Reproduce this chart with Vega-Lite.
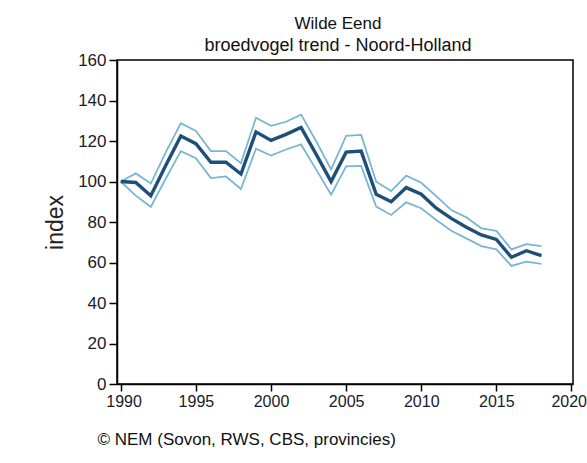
{
  "$schema": "https://vega.github.io/schema/vega-lite/v6.json",
  "width": 456,
  "height": 324,
  "autosize": "none",
  "padding": {"left": 117, "top": 60, "right": 14, "bottom": 79},
  "background": "white",
  "title": {
    "text": "Wilde Eend",
    "subtitle": "broedvogel trend - Noord-Holland",
    "anchor": "middle",
    "frame": "group",
    "dx": -7,
    "offset": -5,
    "font": "Liberation Sans",
    "subtitleFont": "Liberation Sans",
    "fontSize": 17,
    "subtitleFontSize": 18,
    "fontWeight": "normal",
    "color": "#111111",
    "subtitleColor": "#111111",
    "subtitlePadding": 4
  },
  "config": {
    "view": {"stroke": "#000000", "strokeWidth": 1.5},
    "axis": {
      "labelFont": "Liberation Sans",
      "titleFont": "Liberation Sans",
      "labelColor": "#1a1a2a",
      "titleColor": "#222222",
      "domainColor": "#000000",
      "tickColor": "#000000",
      "domainWidth": 1.5,
      "tickWidth": 1.5,
      "grid": false
    }
  },
  "data": {
    "values": [
      {"year": 1990, "lo": 100, "mid": 100, "hi": 100},
      {"year": 1991, "lo": 93, "mid": 99.5, "hi": 104},
      {"year": 1992, "lo": 87.5, "mid": 93, "hi": 99},
      {"year": 1993, "lo": 101.5, "mid": 108, "hi": 114.5},
      {"year": 1994, "lo": 115, "mid": 122.5, "hi": 128.8},
      {"year": 1995, "lo": 111.5, "mid": 118.7, "hi": 125},
      {"year": 1996, "lo": 101.7, "mid": 109.5, "hi": 115},
      {"year": 1997, "lo": 102.5, "mid": 109.5, "hi": 115},
      {"year": 1998, "lo": 96.3, "mid": 103.7, "hi": 109},
      {"year": 1999, "lo": 116.2, "mid": 124.5, "hi": 131.5},
      {"year": 2000, "lo": 112.8, "mid": 120.3, "hi": 127.5},
      {"year": 2001, "lo": 115.8, "mid": 123.3, "hi": 129.5},
      {"year": 2002, "lo": 118.3, "mid": 126.7, "hi": 133},
      {"year": 2003, "lo": 106, "mid": 113.5, "hi": 120},
      {"year": 2004, "lo": 93.5, "mid": 100, "hi": 106},
      {"year": 2005, "lo": 107.5, "mid": 114.5, "hi": 122.5},
      {"year": 2006, "lo": 107.7, "mid": 115, "hi": 123},
      {"year": 2007, "lo": 87.6, "mid": 93.7, "hi": 99.9},
      {"year": 2008, "lo": 83.5, "mid": 90, "hi": 95.3},
      {"year": 2009, "lo": 89.7, "mid": 97, "hi": 102.9},
      {"year": 2010, "lo": 86.8, "mid": 93.7, "hi": 99.4},
      {"year": 2011, "lo": 81, "mid": 86.8, "hi": 92.8},
      {"year": 2012, "lo": 75.7, "mid": 81.8, "hi": 85.9},
      {"year": 2013, "lo": 71.9, "mid": 77.4, "hi": 82.3},
      {"year": 2014, "lo": 68.1, "mid": 73.6, "hi": 76.9},
      {"year": 2015, "lo": 66.5, "mid": 71.4, "hi": 75.6},
      {"year": 2016, "lo": 58.3, "mid": 62.6, "hi": 66.5},
      {"year": 2017, "lo": 60.4, "mid": 65.8, "hi": 69.1},
      {"year": 2018, "lo": 59.3, "mid": 63.4, "hi": 68.1}
    ]
  },
  "encoding": {
    "x": {
      "field": "year",
      "type": "quantitative",
      "scale": {"domain": [1989.75, 2020.1], "nice": false, "zero": false},
      "axis": {
        "values": [1990, 1995, 2000, 2005, 2010, 2015, 2020],
        "format": "d",
        "labelFontSize": 16,
        "labelPadding": 2,
        "labelFlush": 6,
        "labelFlushOffset": 15,
        "tickSize": 7,
        "title": "© NEM (Sovon, RWS, CBS, provincies)",
        "titleFontSize": 17,
        "titleFontWeight": "normal",
        "titleAnchor": "start",
        "titleAlign": "left",
        "titleBaseline": "middle",
        "titleX": -20,
        "titleY": 55,
        "titleColor": "#111111"
      }
    }
  },
  "layer": [
    {
      "mark": {"type": "line", "color": "#78b6d4", "strokeWidth": 1.8},
      "encoding": {
        "y": {"field": "hi", "type": "quantitative", "scale": {"domain": [0, 160], "nice": false},
          "axis": {"values": [0, 20, 40, 60, 80, 100, 120, 140, 160], "labelFontSize": 17, "labelPadding": 3, "tickSize": 8,
            "title": "index", "titleFontSize": 23, "titleFontWeight": "normal", "titlePadding": 10}}
      }
    },
    {
      "mark": {"type": "line", "color": "#78b6d4", "strokeWidth": 1.8},
      "encoding": {
        "y": {"field": "lo", "type": "quantitative", "scale": {"domain": [0, 160], "nice": false},
          "axis": {"values": [0, 20, 40, 60, 80, 100, 120, 140, 160], "labelFontSize": 17, "labelPadding": 3, "tickSize": 8,
            "title": "index", "titleFontSize": 23, "titleFontWeight": "normal", "titlePadding": 10}}
      }
    },
    {
      "mark": {"type": "line", "color": "#1d4f78", "strokeWidth": 3.4},
      "encoding": {
        "y": {"field": "mid", "type": "quantitative", "scale": {"domain": [0, 160], "nice": false},
          "axis": {"values": [0, 20, 40, 60, 80, 100, 120, 140, 160], "labelFontSize": 17, "labelPadding": 3, "tickSize": 8,
            "title": "index", "titleFontSize": 23, "titleFontWeight": "normal", "titlePadding": 10}}
      }
    }
  ]
}
